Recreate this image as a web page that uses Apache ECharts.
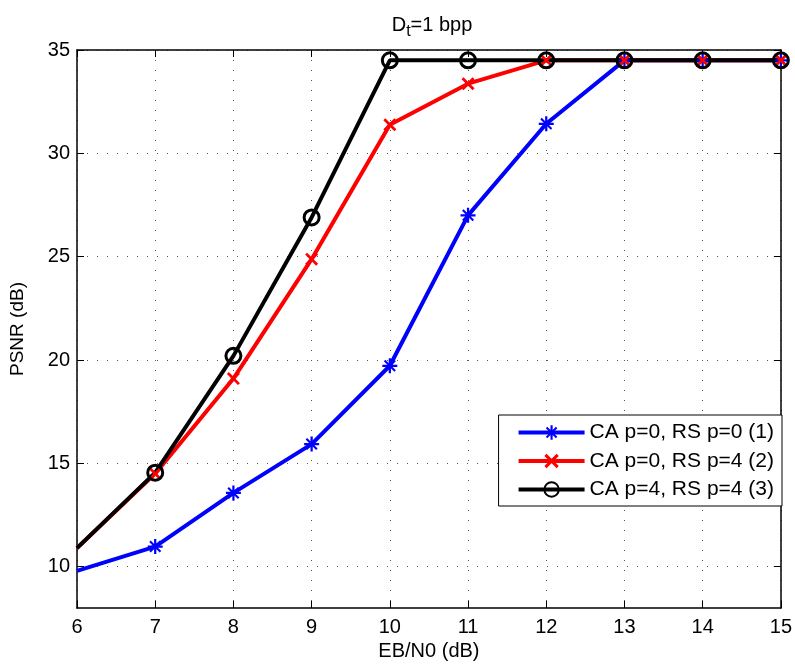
<!DOCTYPE html>
<html><head><meta charset="utf-8">
<script src="https://cdn.jsdelivr.net/npm/echarts@6/dist/echarts.min.js"></script>
<style>html,body{margin:0;padding:0;background:#fff}#c{width:795px;height:668px}</style>
</head><body><div id="c"></div>
<script>
const xValues = [6, 7, 8, 9, 10, 11, 12, 13, 14, 15];
const seriesNames = ['CA p=0, RS p=0 (1)', 'CA p=0, RS p=4 (2)', 'CA p=4, RS p=4 (3)'];
const blueValues  = [9.8, 10.97, 13.57, 15.93, 19.72, 27.0, 31.43, 34.5, 34.5, 34.5];
const redValues   = [10.9, 14.5, 19.1, 24.88, 31.38, 33.37, 34.5, 34.5, 34.5, 34.5];
const blackValues = [10.9, 14.55, 20.2, 26.9, 34.5, 34.5, 34.5, 34.5, 34.5, 34.5];
const yTicks = [10, 15, 20, 25, 30, 35];

const asterisk = 'path://M0 8.5L20 8.5L20 11.5L0 11.5Z M8.5 0L11.5 0L11.5 20L8.5 20Z M2 4L4 2L18 16L16 18Z M16 2L18 4L4 18L2 16Z';
const cross = 'path://M0 3L3 0L20 17L17 20Z M17 0L20 3L3 20L0 17Z';

// first point sits on the left border: no marker drawn there
const pairs = v => xValues.map((x, i) => i === 0 ? {value: [x, v[i]], symbol: 'none'} : [x, v[i]]);
const font = 'Liberation Sans, Arial, Helvetica, sans-serif';
const chart = echarts.init(document.getElementById('c'), null, {renderer: 'canvas'});

const baseX = {type: 'value', min: 6, max: 15, interval: 1};
const baseY = {type: 'value', min: 8, max: 35};
const tickY = {show: true, inside: true, length: 7, lineStyle: {color: '#000'}, customValues: yTicks};

chart.setOption({
  animation: false,
  backgroundColor: '#fff',
  textStyle: {fontFamily: font},
  title: {
    text: '{a|D}{b|t}{a|=1 bpp}',
    left: 427, top: 5, textAlign: 'center',
    textStyle: {fontWeight: 'normal', rich: {
      a: {fontSize: 20, color: '#000', fontFamily: font, fontWeight: 'normal'},
      b: {fontSize: 16, color: '#000', fontFamily: font, fontWeight: 'normal', padding: [14, 0, 0, 0]}
    }}
  },
  grid: {left: 75, top: 50, right: 13, bottom: 60, containLabel: false},
  legend: {
    orient: 'vertical', right: 13, top: 415,
    backgroundColor: '#fff', borderColor: '#000', borderWidth: 1,
    padding: [7, 8, 6, 18], itemGap: 7.5, itemWidth: 66, itemHeight: 18,
    lineStyle: {width: 4},
    textStyle: {fontSize: 21, color: '#000', fontFamily: font},
    data: seriesNames
  },
  xAxis: [
    Object.assign({}, baseX, {
      position: 'bottom',
      name: 'EB/N0 (dB)', nameLocation: 'middle', nameGap: 33,
      nameTextStyle: {fontSize: 20, color: '#000', fontFamily: font},
      axisLine: {lineStyle: {color: '#000', width: 1.5}},
      axisTick: {inside: true, length: 7, lineStyle: {color: '#000'}},
      axisLabel: {fontSize: 20, color: '#000', margin: 9, fontFamily: font},
      splitLine: {show: true, lineStyle: {color: '#555', type: [1, 9], width: 1}}
    }),
    Object.assign({}, baseX, {
      position: 'top',
      axisLine: {onZero: false, lineStyle: {color: '#000', width: 1.5}},
      axisTick: {inside: true, length: 7, lineStyle: {color: '#000'}},
      axisLabel: {show: false}, splitLine: {show: false}
    })
  ],
  yAxis: [
    Object.assign({}, baseY, {
      position: 'left',
      name: 'PSNR (dB)', nameLocation: 'middle', nameGap: 50,
      nameTextStyle: {fontSize: 19, color: '#000', fontFamily: font},
      axisLine: {show: true, lineStyle: {color: '#000', width: 1.5}},
      axisTick: tickY,
      axisLabel: {fontSize: 20, color: '#000', margin: 7, fontFamily: font, customValues: yTicks},
      splitLine: {show: true, lineStyle: {color: '#555', type: [1, 9], width: 1}}
    }),
    Object.assign({}, baseY, {
      position: 'right',
      axisLine: {show: true, onZero: false, lineStyle: {color: '#000', width: 1.5}},
      axisTick: tickY,
      axisLabel: {show: false}, splitLine: {show: false}
    })
  ],
  series: [
    {
      name: seriesNames[0], type: 'line', data: pairs(blueValues),
      symbol: asterisk, symbolSize: 15, symbolKeepAspect: true,
      lineStyle: {color: '#0000ff', width: 4},
      itemStyle: {color: '#0000ff'}
    },
    {
      name: seriesNames[1], type: 'line', data: pairs(redValues),
      symbol: cross, symbolSize: 13, symbolKeepAspect: true,
      lineStyle: {color: '#ff0000', width: 4},
      itemStyle: {color: '#ff0000'}
    },
    {
      name: seriesNames[2], type: 'line', data: pairs(blackValues),
      symbol: 'circle', symbolSize: 15,
      lineStyle: {color: '#000', width: 4},
      itemStyle: {color: 'rgba(0,0,0,0)', borderColor: '#000', borderWidth: 3}
    }
  ]
});
</script></body></html>
